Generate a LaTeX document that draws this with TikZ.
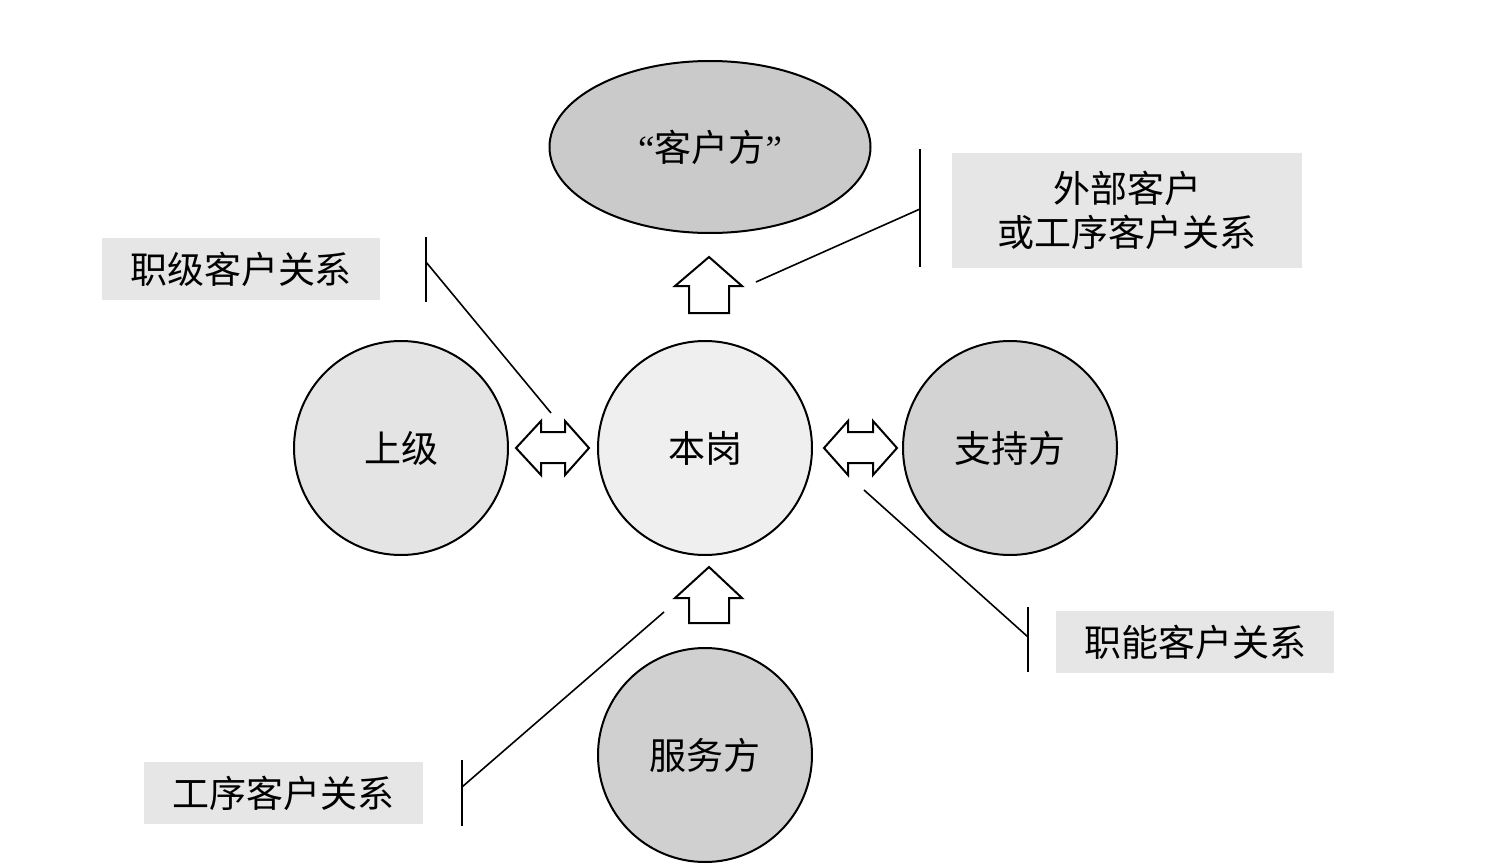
\documentclass[tikz,border=0pt]{standalone}
\usepackage{fontspec}
\setmainfont{Liberation Serif}
\newfontfamily\cjk{Noto Sans CJK SC}
\usetikzlibrary{shapes.geometric}
\definecolor{lab}{HTML}{E6E6E6}
\definecolor{ellf}{HTML}{CACACA}
\definecolor{supf}{HTML}{E4E4E4}
\definecolor{selff}{HTML}{EFEFEF}
\definecolor{zhif}{HTML}{D3D3D3}
\definecolor{fuf}{HTML}{D0D0D0}
\tikzset{
  role/.style={circle,draw=black,line width=1pt,minimum size=107pt,inner sep=0pt,font=\cjk\fontsize{18.5}{22}\selectfont},
  labbox/.style={fill=lab,draw=none,inner sep=0pt,font=\cjk\fontsize{18.5}{22}\selectfont,align=center},
  fatarrow/.style={draw=black,fill=white,line width=1pt,line join=miter},
  callout/.style={draw=black,line width=0.8pt}
}
\begin{document}
\begin{tikzpicture}[x=0.5pt,y=-0.5pt]
\useasboundingbox (0,0) rectangle (1496,867);
% ellipse
\node[ellipse,draw=black,line width=1pt,fill=ellf,minimum width=160.5pt,minimum height=86pt,inner sep=0pt,font=\fontsize{18.5}{22}\selectfont] (cust) at (710,147) {“{\cjk 客户方}”};
% circles
\node[role,fill=supf] (sup) at (401,448) {上级};
\node[role,fill=selff] (self) at (705,448) {本岗};
\node[role,fill=zhif] (zhi) at (1010,448) {支持方};
\node[role,fill=fuf] (fu) at (705,755) {服务方};
% labels
\node[labbox,minimum width=139pt,minimum height=31pt] (l1) at (241,269) {职级客户关系};
\node[labbox,minimum width=175pt,minimum height=57.5pt] (l2) at (1127,210.5) {外部客户\\或工序客户关系};
\node[labbox,minimum width=139pt,minimum height=31pt] (l3) at (1195,642) {职能客户关系};
\node[labbox,minimum width=139.5pt,minimum height=31pt] (l4) at (283.5,793) {工序客户关系};
% up arrows
\draw[fatarrow] (709,257) -- (742,286) -- (729,286) -- (729,313) -- (689,313) -- (689,286) -- (675,286) -- cycle;
\draw[fatarrow] (709,567) -- (742,598) -- (729,598) -- (729,623) -- (689,623) -- (689,598) -- (675,598) -- cycle;
% double arrows
\draw[fatarrow] (516,448) -- (541,421) -- (541,432) -- (565,432) -- (565,421) -- (589,448) -- (565,475) -- (565,463) -- (541,463) -- (541,475) -- cycle;
\draw[fatarrow] (824,448) -- (848,421) -- (848,432) -- (873,432) -- (873,421) -- (897,448) -- (873,475) -- (873,463) -- (848,463) -- (848,475) -- cycle;
% callouts
\coordinate (b1t) at (426,237); \coordinate (b1b) at (426,302); \coordinate (b1m) at (426,262); \coordinate (e1) at (551,413);
\draw[callout] (b1t) -- (b1b); \draw[callout] (b1m) -- (e1);
\coordinate (b2t) at (920,149); \coordinate (b2b) at (920,267); \coordinate (b2m) at (920,209); \coordinate (e2) at (756,282);
\draw[callout] (b2t) -- (b2b); \draw[callout] (b2m) -- (e2);
\coordinate (b3t) at (1028,607); \coordinate (b3b) at (1028,672); \coordinate (b3m) at (1028,637); \coordinate (e3) at (864,490);
\draw[callout] (b3t) -- (b3b); \draw[callout] (b3m) -- (e3);
\coordinate (b4t) at (462,760); \coordinate (b4b) at (462,826); \coordinate (b4m) at (462,787); \coordinate (e4) at (664,612);
\draw[callout] (b4t) -- (b4b); \draw[callout] (b4m) -- (e4);
\end{tikzpicture}
\end{document}
